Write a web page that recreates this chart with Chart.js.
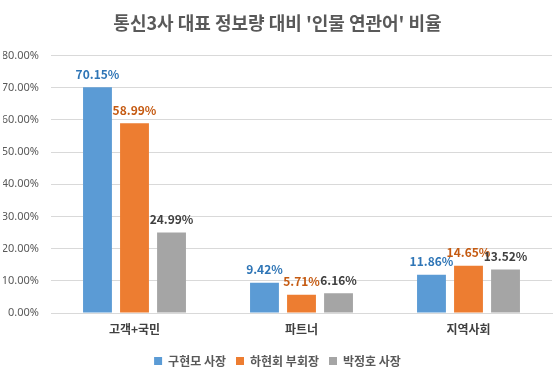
<!DOCTYPE html>
<html><head><meta charset="utf-8">
<script src="https://cdn.jsdelivr.net/npm/chart.js@4"></script>
<style>html,body{margin:0;padding:0;background:#fff;}#wrap{width:560px;height:379px;}</style>
</head><body><div id="wrap"><canvas id="c" width="560" height="379"></canvas></div>
<script>
const title = "통신3사 대표 정보량 대비 '인물 연관어' 비율";
const categories = ["고객+국민", "파트너", "지역사회"];
const seriesNames = ["구현모 사장", "하현회 부회장", "박정호 사장"];
const kooValues = [70.15, 9.42, 11.86];
const haValues = [58.99, 5.71, 14.65];
const parkValues = [24.99, 6.16, 13.52];
const yTicks = [0, 10, 20, 30, 40, 50, 60, 70, 80];

const barColors = ["#5B9BD5", "#ED7D31", "#A5A5A5"];
const labelColors = ["#2E75B6", "#C55A11", "#404040"];
const FONT = "'Noto Sans CJK KR', 'Noto Sans', sans-serif";

const labelPlugin = {
  id: 'vlabels',
  afterDatasetsDraw(chart) {
    const ctx = chart.ctx;
    ctx.save();
    ctx.font = "bold 12px " + FONT;
    ctx.textAlign = 'center';
    ctx.textBaseline = 'bottom';
    chart.data.datasets.forEach((ds, i) => {
      const meta = chart.getDatasetMeta(i);
      ctx.fillStyle = labelColors[i];
      meta.data.forEach((bar, j) => {
        ctx.fillText(ds.data[j].toFixed(2) + '%', bar.x, bar.y - 7);
      });
    });
    ctx.restore();
  }
};

new Chart(document.getElementById('c'), {
  type: 'bar',
  data: {
    labels: categories,
    datasets: [
      { label: seriesNames[0], data: kooValues, backgroundColor: barColors[0] },
      { label: seriesNames[1], data: haValues, backgroundColor: barColors[1] },
      { label: seriesNames[2], data: parkValues, backgroundColor: barColors[2] }
    ]
  },
  options: {
    responsive: false,
    animation: false,
    devicePixelRatio: 1,
    layout: { padding: { left: 3, right: 8, top: 4, bottom: 2 } },
    datasets: { bar: { categoryPercentage: 0.665, barPercentage: 0.78 } },
    plugins: {
      title: { display: true, text: title, color: '#595959', font: { family: FONT, size: 18, weight: 'bold' }, padding: { top: 8, bottom: 22 } },
      legend: { position: 'bottom', labels: { boxWidth: 8, boxHeight: 8, color: '#595959', font: { family: FONT, size: 12, weight: 'bold' }, padding: 10 } },
      tooltip: { enabled: false }
    },
    scales: {
      x: {
        grid: { display: false, drawTicks: false },
        border: { display: true, color: '#D9D9D9' },
        ticks: { color: '#404040', font: { family: FONT, size: 12, weight: 'bold' }, padding: 9 },
        afterFit: (scale) => { scale.height = 32; }
      },
      y: {
        min: 0, max: 80,
        afterBuildTicks: (axis) => { axis.ticks = yTicks.map(v => ({ value: v })); },
        grid: { color: '#D9D9D9', drawTicks: false },
        border: { display: false },
        ticks: { color: '#595959', font: { family: "'Noto Sans', sans-serif", size: 11 }, padding: 12, callback: v => v.toFixed(2) + '%' },
        afterFit: (scale) => { scale.width = 48; }
      }
    }
  },
  plugins: [labelPlugin]
});
</script></body></html>
